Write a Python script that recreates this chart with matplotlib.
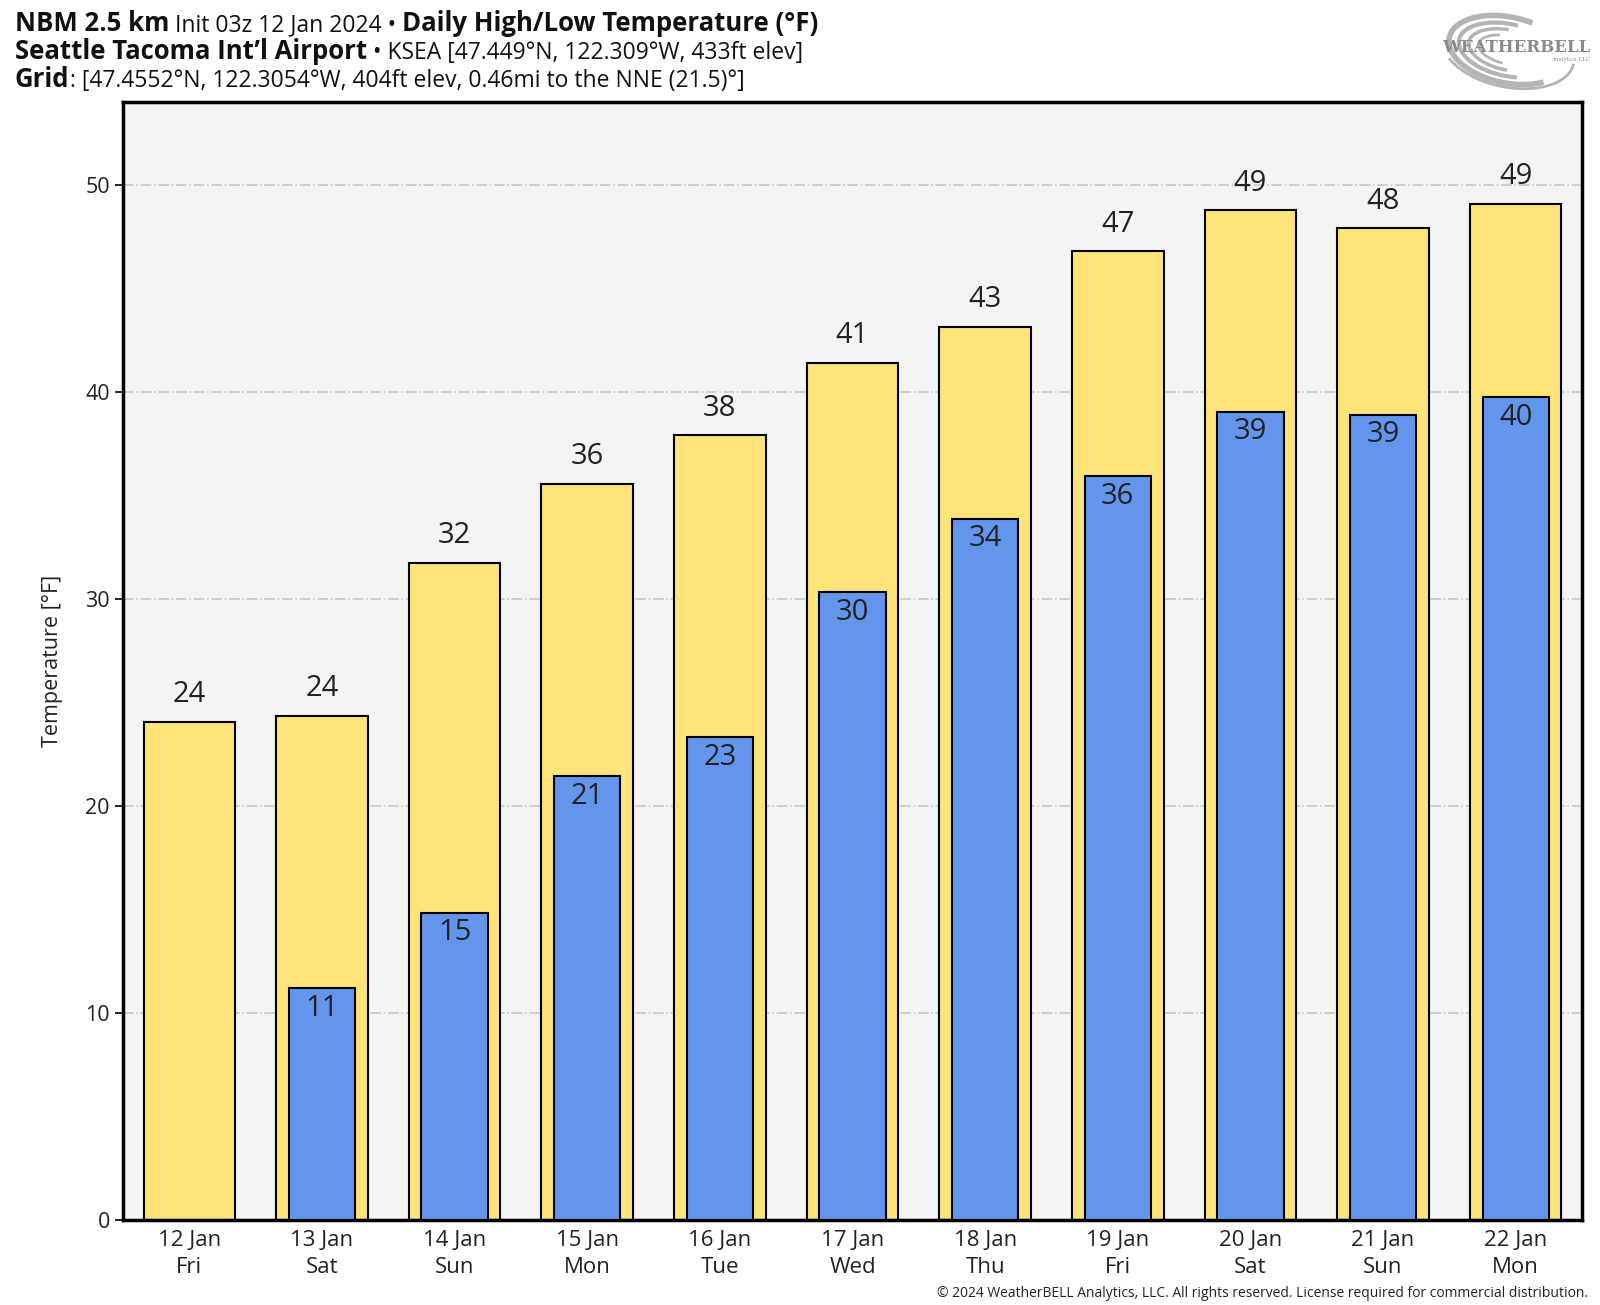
import numpy as np
import matplotlib.pyplot as plt
from matplotlib.patches import Arc

plt.rcParams['font.family'] = ['Open Sans', 'Noto Sans', 'DejaVu Sans']

days = ['12 Jan\nFri', '13 Jan\nSat', '14 Jan\nSun', '15 Jan\nMon', '16 Jan\nTue', '17 Jan\nWed',
        '18 Jan\nThu', '19 Jan\nFri', '20 Jan\nSat', '21 Jan\nSun', '22 Jan\nMon']
highs = [24.06, 24.36, 31.75, 35.55, 37.91, 41.4, 43.15, 46.8, 48.78, 47.91, 49.09]
lows = [np.nan, 11.2, 14.84, 21.43, 23.33, 30.32, 33.88, 35.93, 39.03, 38.9, 39.73]

fig = plt.figure(figsize=(16, 13.05), dpi=100)
ax = fig.add_axes([123 / 1600, 1 - 1220 / 1305, (1582 - 123) / 1600, (1220 - 102) / 1305])
ax.set_facecolor('#f4f4f4')

x = np.arange(len(days))
ax.bar(x, highs, width=0.69, color='#ffe47a', edgecolor='black', linewidth=1.5, zorder=2)
ax.bar(x, lows, width=0.5, color='#6495ed', edgecolor='black', linewidth=1.5, zorder=3)

for i in range(len(days)):
    ax.annotate(f'{round(highs[i])}', (x[i], highs[i]), xytext=(0, 9), textcoords='offset points',
                ha='center', va='bottom', fontsize=21, color='#222222', zorder=4)
    if not np.isnan(lows[i]):
        ax.annotate(f'{round(lows[i])}', (x[i], lows[i]), xytext=(0, -4), textcoords='offset points',
                    ha='center', va='top', fontsize=21, color='#222222', zorder=4)

ax.set_xlim(-0.5, len(days) - 0.5)
ax.set_ylim(0, 54)
ax.set_yticks(range(0, 51, 10))
ax.set_xticks(x)
ax.set_xticklabels(days, fontsize=16, color='#222222', linespacing=1.4)
ax.tick_params(axis='x', length=0, pad=7)
ax.tick_params(axis='y', labelsize=15.5, labelcolor='#222222', length=6, width=1.2, direction='out')
ax.grid(axis='y', color='#c8c8c8', linestyle='-.', linewidth=1.2, zorder=1)
ax.set_axisbelow(True)
for s in ax.spines.values():
    s.set_linewidth(2.5)
ax.set_ylabel('Temperature [°F]', fontsize=15.5, color='#222222', labelpad=16)


def line(y, parts):
    size = {'bold': 18.5, 'normal': 16.5}
    t = fig.text(15 / 1600, y, parts[0][0], fontsize=size[parts[0][1]], fontweight=parts[0][1],
                 va='bottom', ha='left', color='#111111')
    for s, w in parts[1:]:
        t = ax.annotate(s, xy=(1, 0), xycoords=t, va='bottom', ha='left', fontsize=size[w],
                        fontweight=w, color='#111111', annotation_clip=False)


line(1 - 37 / 1305, [('NBM 2.5 km', 'bold'), (' Init 03z 12 Jan 2024 • ', 'normal'),
                     ('Daily High/Low Temperature (°F)', 'bold')])
line(1 - 65 / 1305, [('Seattle Tacoma Int’l Airport', 'bold'),
                     (' • KSEA [47.449°N, 122.309°W, 433ft elev]', 'normal')])
line(1 - 93 / 1305, [('Grid', 'bold'),
                     (': [47.4552°N, 122.3054°W, 404ft elev, 0.46mi to the NNE (21.5)°]', 'normal')])

fig.text(1588 / 1600, 1 - 1301 / 1305,
         '© 2024 WeatherBELL Analytics, LLC. All rights reserved. License required for commercial distribution.',
         ha='right', va='bottom', fontsize=10, color='#222222')

# logo
lg = fig.add_axes([1440 / 1600, 1 - 92 / 1305, 155 / 1600, 82 / 1305])
lg.set_xlim(0, 155)
lg.set_ylim(0, 82)
lg.axis('off')
for w, h, a1, a2, lw in [(120, 66, 60, 330, 4), (100, 52, 80, 300, 3), (80, 40, 100, 280, 2.5),
                          (134, 74, 200, 360, 2), (60, 28, 130, 260, 2)]:
    lg.add_patch(Arc((68, 42), w, h, angle=-12, theta1=a1, theta2=a2, color='#b4b4b4', lw=lw))
lg.text(150, 44, 'WEATHERBELL', ha='right', va='center', fontsize=12, family='DejaVu Serif',
        color='#8a8a8a', fontweight='bold')
lg.text(150, 33, 'Analytics LLC', ha='right', va='center', fontsize=4, family='DejaVu Serif', color='#8a8a8a')

fig.savefig('out.png', dpi=100)
